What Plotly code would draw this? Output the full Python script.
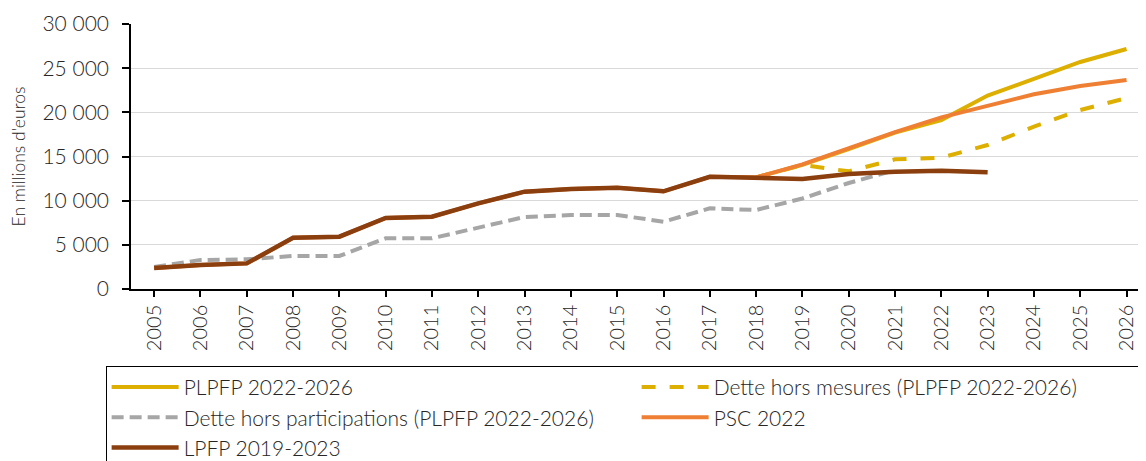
import plotly.graph_objects as go

years = list(range(2005, 2027))

lpfp_years = list(range(2005, 2024))
lpfp = [2380, 2720, 2900, 5800, 5920, 8040, 8190, 9700, 11020, 11320, 11470, 11060,
        12710, 12640, 12450, 13020, 13280, 13400, 13210]

psc_years = list(range(2005, 2027))
psc = [2380, 2720, 2900, 5800, 5920, 8040, 8190, 9700, 11020, 11320, 11470, 11060,
       12710, 12640, 14100, 15900, 17750, 19430, 20750, 22040, 22980, 23660]

plpfp_years = list(range(2018, 2027))
plpfp = [12640, 14050, 15850, 17700, 19130, 21900, 23800, 25700, 27170]

hm_years = list(range(2018, 2027))
hors_mesures = [12640, 14040, 13320, 14680, 14870, 16300, 18380, 20260, 21620]

hp_years = list(range(2005, 2022))
hors_particip = [2500, 3280, 3360, 3740, 3740, 5740, 5740, 6900, 8150, 8380, 8380, 7620,
                 9130, 8940, 10250, 12000, 13450]

yellow = "#DDAF00"
orange = "#EE7F33"
brown = "#8B3F0F"
gray = "#A6A6A6"

fig = go.Figure()
fig.add_trace(go.Scatter(x=hp_years, y=hors_particip, mode="lines",
                         name="Dette hors participations (PLPFP 2022-2026)",
                         line=dict(color=gray, width=4, dash="12px,6px"), legendrank=3))
fig.add_trace(go.Scatter(x=plpfp_years, y=plpfp, mode="lines", name="PLPFP 2022-2026",
                         line=dict(color=yellow, width=4), legendrank=1))
fig.add_trace(go.Scatter(x=hm_years, y=hors_mesures, mode="lines",
                         name="Dette hors mesures (PLPFP 2022-2026)",
                         line=dict(color=yellow, width=4, dash="14px,14px"), legendrank=2))
fig.add_trace(go.Scatter(x=psc_years, y=psc, mode="lines", name="PSC 2022",
                         line=dict(color=orange, width=4), legendrank=4))
fig.add_trace(go.Scatter(x=lpfp_years, y=lpfp, mode="lines", name="LPFP 2019-2023",
                         line=dict(color=brown, width=4.5), legendrank=5))

font_family = "Lato"
fig.update_layout(
    width=1138, height=453,
    margin=dict(l=123, r=0, t=16, b=172, autoexpand=False),
    plot_bgcolor="white", paper_bgcolor="white",
    separators=", ",
    font=dict(family=font_family, color="#262626", size=21, weight=300),
    xaxis=dict(
        range=[2004.5, 2026.42], tickmode="array", tickvals=years,
        ticktext=[str(y) for y in years], tickangle=-90,
        showgrid=False, showline=True, linecolor="black", linewidth=1.5,
        ticks="outside", ticklen=6, tickcolor="black", tickwidth=1.5,
        tickfont=dict(size=20, family=font_family, weight=300),
        zeroline=False,
    ),
    yaxis=dict(
        range=[0, 30000], tickvals=[0, 5000, 10000, 15000, 20000, 25000, 30000],
        tickformat=",d", showgrid=True, gridcolor="#D9D9D9", gridwidth=1,
        showline=True, linecolor="black", linewidth=1.5,
        ticks="outside", ticklen=7, tickcolor="black", tickwidth=1.5,
        ticklabelstandoff=9,
        tickfont=dict(size=21, family=font_family, weight=300),
        title=dict(text="En millions d'euros",
                   font=dict(size=17.5, family=font_family, weight=300), standoff=12),
        zeroline=False,
    ),
    legend=dict(
        orientation="h", x=-0.025, xanchor="left", y=-0.29, yanchor="top",
        bordercolor="black", borderwidth=1, bgcolor="white",
        entrywidth=448, entrywidthmode="pixels", itemwidth=67,
        font=dict(size=21, family=font_family, weight=300), traceorder="normal",
    ),
)

fig.write_html("out.html")
